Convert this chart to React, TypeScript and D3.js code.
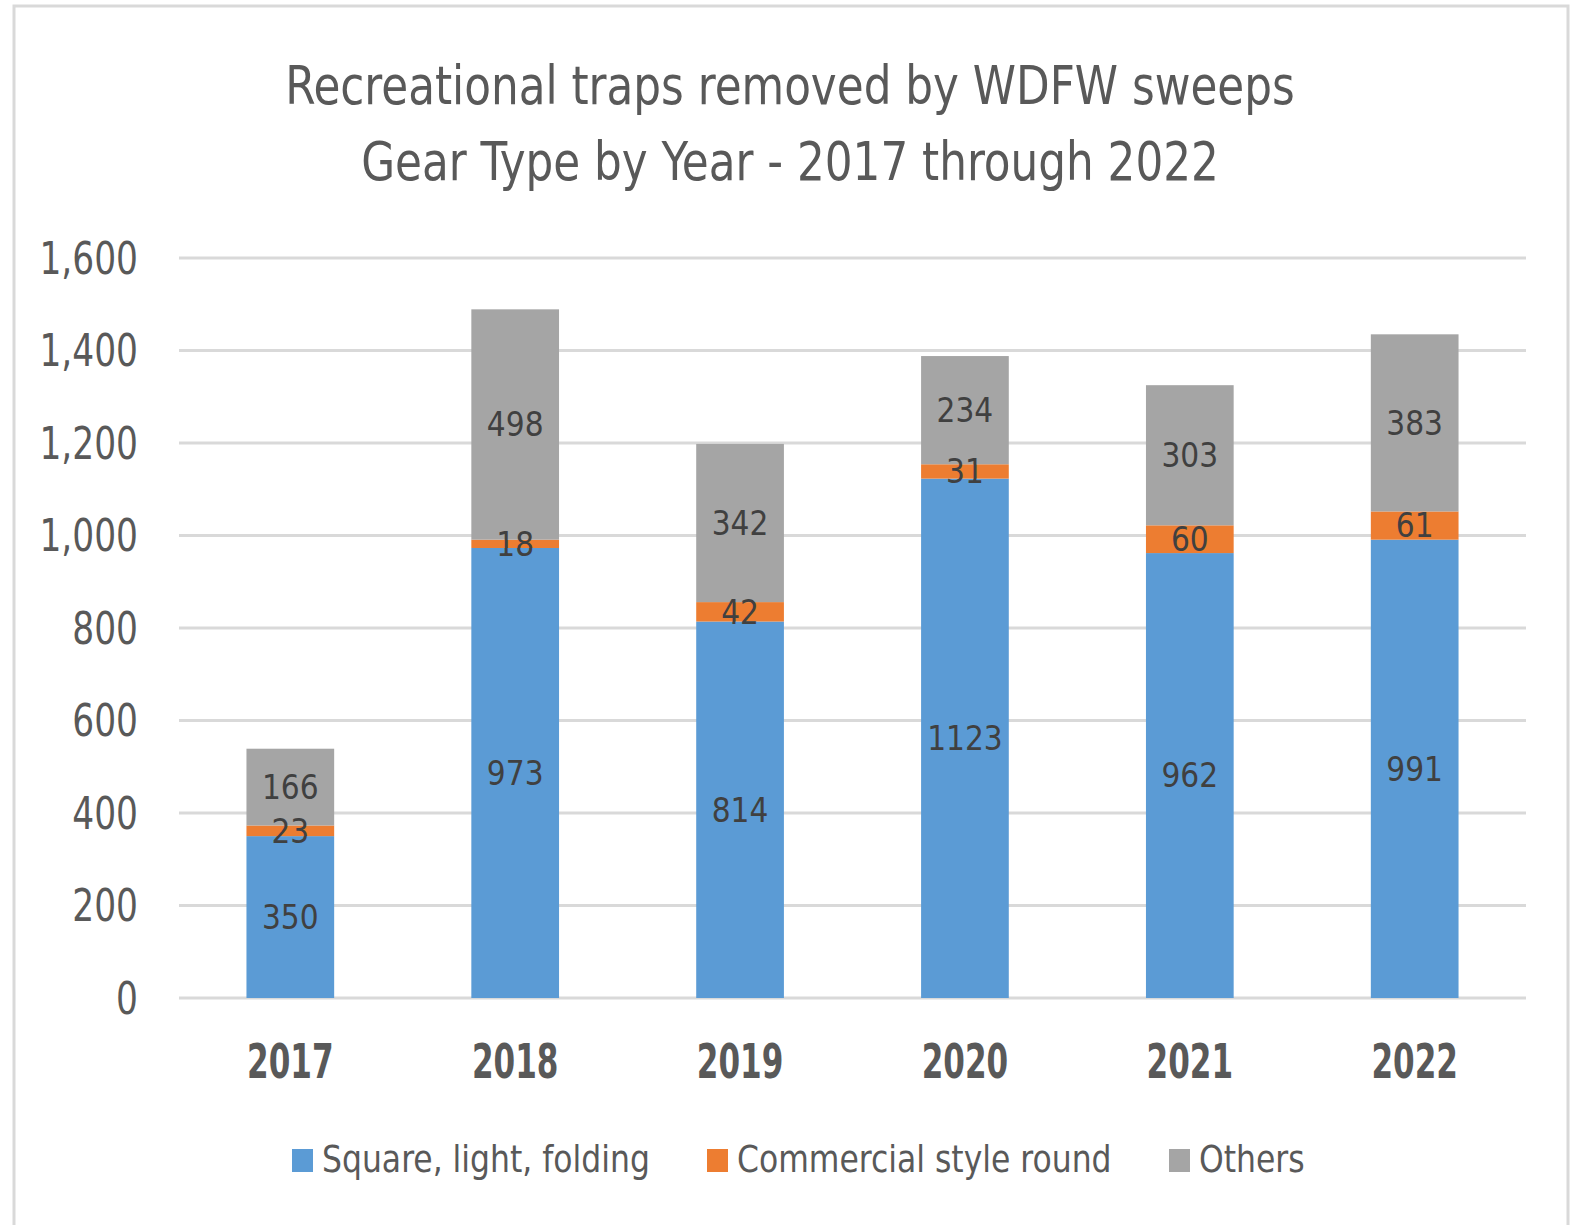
import React, { useEffect, useRef } from 'react';
import * as d3 from 'd3';

const years = ['2017', '2018', '2019', '2020', '2021', '2022'];
const squareLight = [350, 973, 814, 1123, 962, 991];
const commercialRound = [23, 18, 42, 31, 60, 61];
const others = [166, 498, 342, 234, 303, 383];
const seriesNames = ['Square, light, folding', 'Commercial style round', 'Others'];
const seriesColors = ['#5B9BD5', '#ED7D31', '#A5A5A5'];
const yTicks = [0, 200, 400, 600, 800, 1000, 1200, 1400, 1600];

const FONT = '"Liberation Sans Narrow", "DejaVu Sans Condensed", "Liberation Sans", sans-serif';

function App() {
    const svgRef = useRef(null);
    const width = 1578;
    const height = 1225;

    useEffect(() => {
        const svg = d3.select(svgRef.current);
        svg.selectAll('*').remove();

        const left = 179, right = 1526, top = 258, bottom = 998;

        // frame
        svg.append('rect')
            .attr('x', 14).attr('y', 6)
            .attr('width', 1554).attr('height', 1260)
            .attr('fill', '#fff')
            .attr('stroke', '#d9d9d9')
            .attr('stroke-width', 3);

        const x = d3.scaleBand()
            .domain(years)
            .range([left, right])
            .paddingInner(0.61)
            .paddingOuter(0.3);

        const y = d3.scaleLinear()
            .domain([0, 1600])
            .range([bottom, top]);

        const rows = years.map((yr, i) => ({
            year: yr,
            s0: squareLight[i],
            s1: commercialRound[i],
            s2: others[i],
        }));
        const stack = d3.stack().keys(['s0', 's1', 's2'])(rows);

        // gridlines
        svg.append('g')
            .selectAll('line')
            .data(yTicks)
            .join('line')
            .attr('x1', left).attr('x2', right)
            .attr('y1', d => y(d)).attr('y2', d => y(d))
            .attr('stroke', '#d9d9d9')
            .attr('stroke-width', 3);

        // y tick labels (narrowed to mimic Calibri)
        svg.append('g')
            .selectAll('text')
            .data(yTicks)
            .join('text')
            .attr('transform', d => `translate(138,${y(d)}) scale(0.87,1)`)
            .attr('dy', '0.36em')
            .attr('text-anchor', 'end')
            .attr('font-family', FONT)
            .attr('font-size', 44)
            .attr('fill', '#595959')
            .text(d => d3.format(',')(d));

        // bars
        stack.forEach((layer, k) => {
            svg.append('g')
                .selectAll('rect')
                .data(layer)
                .join('rect')
                .attr('x', d => x(d.data.year))
                .attr('y', d => y(d[1]))
                .attr('width', x.bandwidth())
                .attr('height', d => y(d[0]) - y(d[1]))
                .attr('fill', seriesColors[k]);
        });

        // data labels
        stack.forEach(layer => {
            svg.append('g')
                .selectAll('text')
                .data(layer)
                .join('text')
                .attr('x', d => x(d.data.year) + x.bandwidth() / 2)
                .attr('y', d => y((d[0] + d[1]) / 2))
                .attr('dy', '0.36em')
                .attr('text-anchor', 'middle')
                .attr('font-family', FONT)
                .attr('font-size', 33)
                .attr('fill', '#404040')
                .text(d => d[1] - d[0]);
        });

        // x labels
        svg.append('g')
            .selectAll('text')
            .data(years)
            .join('text')
            .attr('transform', d => `translate(${x(d) + x.bandwidth() / 2},1078) scale(0.72,1)`)
            .attr('text-anchor', 'middle')
            .attr('font-family', FONT)
            .attr('font-size', 48)
            .attr('font-weight', 'bold')
            .attr('fill', '#595959')
            .text(d => d);

        // title
        const titleLines = [
            { text: 'Recreational traps removed by WDFW sweeps', y: 104 },
            { text: 'Gear Type by Year - 2017 through 2022', y: 180 },
        ];
        svg.append('g')
            .selectAll('text')
            .data(titleLines)
            .join('text')
            .attr('transform', d => `translate(790,${d.y}) scale(0.9,1)`)
            .attr('text-anchor', 'middle')
            .attr('font-family', FONT)
            .attr('font-size', 54)
            .attr('fill', '#595959')
            .text(d => d.text);

        // legend
        const legendX = [292, 707, 1169];
        const legend = svg.append('g');
        seriesNames.forEach((name, i) => {
            legend.append('rect')
                .attr('x', legendX[i]).attr('y', 1149)
                .attr('width', 21).attr('height', 23)
                .attr('fill', seriesColors[i]);
            legend.append('text')
                .attr('transform', `translate(${legendX[i] + 30},1172) scale(0.92,1)`)
                .attr('font-family', FONT)
                .attr('font-size', 38)
                .attr('fill', '#595959')
                .text(name);
        });
    }, []);

    return (
        <svg ref={svgRef} width={width} height={height}
            style={{ position: 'absolute', left: 0, top: 0, background: '#fff' }} />
    );
}

export default App;
